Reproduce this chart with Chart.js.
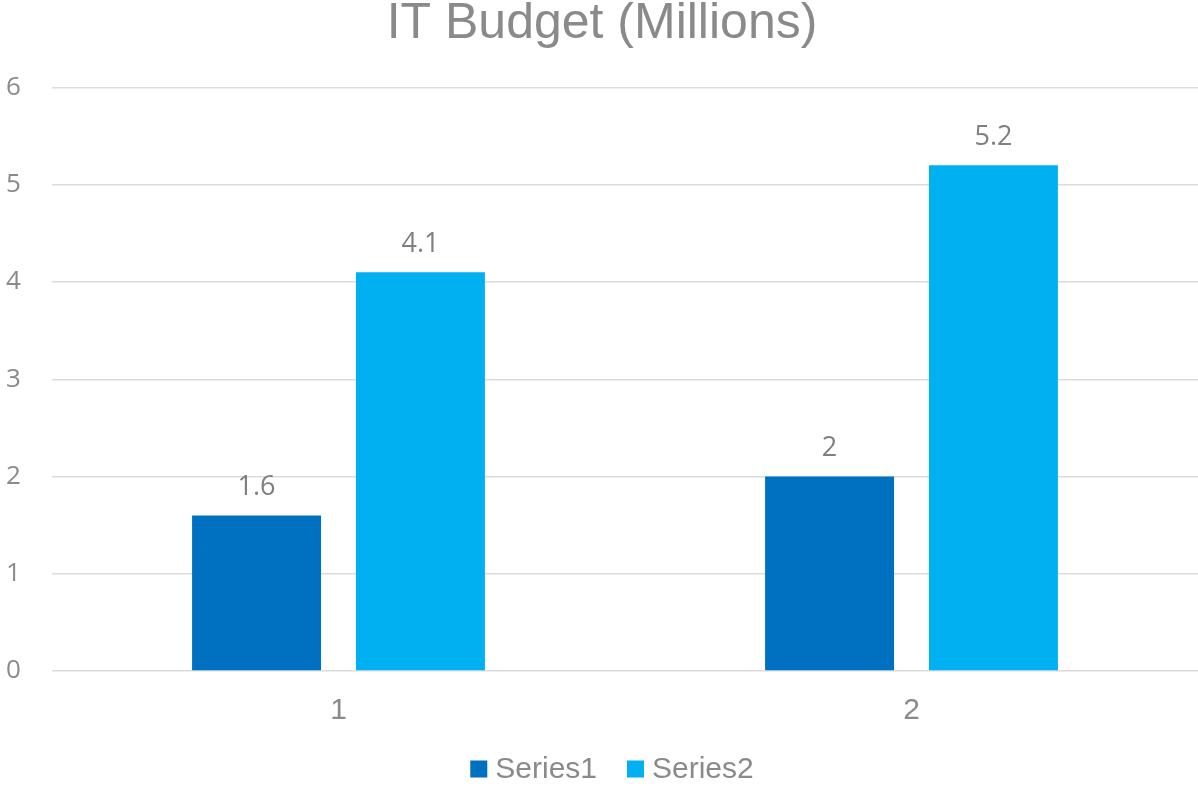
<!DOCTYPE html>
<html>
<head>
<meta charset="utf-8">
<script src="https://cdn.jsdelivr.net/npm/chart.js@4"></script>
<style>
  html, body { margin: 0; padding: 0; background: #fff; }
  #wrap { width: 1198px; height: 786px; }
</style>
</head>
<body>
<div id="wrap"><canvas id="c"></canvas></div>
<script>
var categories = ['1', '2'];
var series1 = [1.6, 2];
var series2 = [4.1, 5.2];
var seriesNames = ['Series1', 'Series2'];
var yTicks = [0, 1, 2, 3, 4, 5, 6];

var grey = '#8a8a8a';
var legendFont = '30px "Liberation Sans", Arial, sans-serif';

// values written above each bar
var barLabels = {
	id: 'barLabels',
	afterDatasetsDraw: function(chart){
		var ctx = chart.ctx;
		ctx.save();
		ctx.font = '27px "Open Sans", sans-serif';
		ctx.fillStyle = '#7f7f7f';
		ctx.textAlign = 'center';
		ctx.textBaseline = 'middle';
		chart.data.datasets.forEach(function(ds, i){
			chart.getDatasetMeta(i).data.forEach(function(bar, j){
				ctx.fillText(String(ds.data[j]), bar.x, bar.y - 28);
			});
		});
		ctx.restore();
	}
};

// legend under the axis, drawn by hand so the spacing matches
var bottomLegend = {
	id: 'bottomLegend',
	afterDraw: function(chart){
		var ctx = chart.ctx;
		var ds = chart.data.datasets;
		var box = 17, gap = 8, between = 30;
		ctx.save();
		ctx.font = legendFont;
		var total = 0;
		ds.forEach(function(d, i){
			total += box + gap + ctx.measureText(d.label).width;
			if (i < ds.length - 1) total += between;
		});
		var x = chart.width / 2 + 13 - total / 2;
		var y = 769;
		ctx.textBaseline = 'middle';
		ds.forEach(function(d){
			ctx.fillStyle = d.backgroundColor;
			ctx.fillRect(x, y - box / 2, box, box);
			x += box + gap;
			ctx.fillStyle = grey;
			ctx.fillText(d.label, x, y + 1);
			x += ctx.measureText(d.label).width + between;
		});
		ctx.restore();
	}
};

new Chart(document.getElementById('c'), {
	type: 'bar',
	data: {
		labels: categories,
		datasets: [
			{ label: seriesNames[0], data: series1, backgroundColor: '#0070C0' },
			{ label: seriesNames[1], data: series2, backgroundColor: '#00B0F0' }
		]
	},
	options: {
		responsive: true,
		maintainAspectRatio: false,
		animation: false,
		categoryPercentage: 0.572,
		barPercentage: 0.787,
		layout: { padding: { left: 6, right: 0, top: 0, bottom: 62 } },
		plugins: {
			title: {
				display: true,
				text: 'IT Budget (Millions)',
				color: grey,
				font: { family: '"Liberation Sans", Arial, sans-serif', size: 50, weight: 'normal', lineHeight: 0.95 },
				padding: { top: 0, bottom: 40 }
			},
			legend: { display: false },
			tooltip: { enabled: false }
		},
		scales: {
			x: {
				grid: { display: false },
				border: { display: false },
				afterFit: function(scale){ scale.height = 53; },
				ticks: {
					color: grey,
					font: { family: '"Liberation Sans", Arial, sans-serif', size: 30 },
					padding: 14
				}
			},
			y: {
				min: 0,
				max: 6,
				afterBuildTicks: function(scale){
					scale.ticks = yTicks.map(function(v){ return { value: v }; });
				},
				afterFit: function(scale){ scale.width = 46; },
				border: { display: false },
				grid: { color: '#dcdcdc', lineWidth: 1.5, drawTicks: false },
				ticks: {
					color: grey,
					font: { family: '"Open Sans", sans-serif', size: 26 },
					crossAlign: 'far',
					padding: 10
				}
			}
		}
	},
	plugins: [barLabels, bottomLegend]
});
</script>
</body>
</html>
